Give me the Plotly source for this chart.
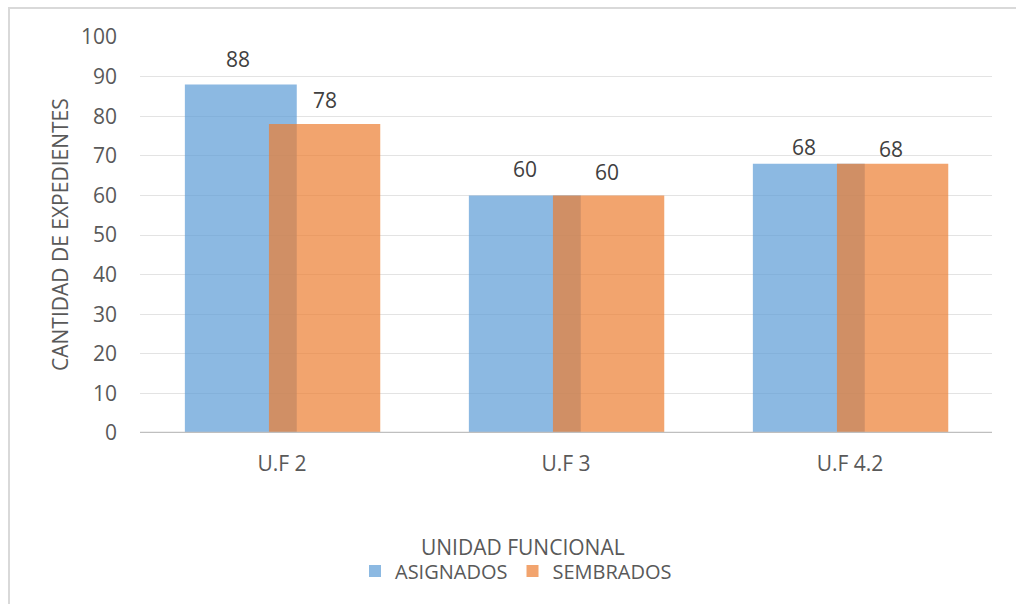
import plotly.graph_objects as go

categories = ["U.F 2", "U.F 3", "U.F 4.2"]
asignados = [88, 60, 68]
sembrados = [78, 60, 68]
series_names = ["ASIGNADOS", "SEMBRADOS"]
y_ticks = [0, 10, 20, 30, 40, 50, 60, 70, 80, 90, 100]

FONT = "Open Sans"
L, R, T, B = 140, 24, 37, 171
W, H = 1016, 604
pw = W - L - R
ph = H - T - B

def px_x(p):
    return (p - L) / pw

def px_y(p):
    return (H - B - p) / ph

BAR_W = [0.394, 0.392]
BAR_OFF = [-0.342, -0.046]
COLORS = ["rgba(91,155,213,0.7)", "rgba(237,125,49,0.7)"]
# label nudges (pixels): [series][category]
LBL_DX = [[-3, 0, -5], [0, -2, -2]]
LBL_DY = [[26, 26, 17], [24, 23, 15]]

fig = go.Figure()
series = [asignados, sembrados]
for s, vals in enumerate(series):
    fig.add_trace(go.Bar(
        x=categories, y=vals, name=series_names[s],
        marker=dict(color=COLORS[s], line=dict(width=0)),
        width=BAR_W[s], offset=BAR_OFF[s],
    ))

annotations = []
for s, vals in enumerate(series):
    for i, v in enumerate(vals):
        annotations.append(dict(
            x=i + BAR_OFF[s] + BAR_W[s] / 2, y=v, xref="x", yref="y",
            text=str(v), showarrow=False, xanchor="center", yanchor="middle",
            xshift=LBL_DX[s][i], yshift=LBL_DY[s][i],
            font=dict(family=FONT, size=21, color="#404040"),
        ))

annotations += [
    dict(text="UNIDAD FUNCIONAL", xref="paper", yref="paper",
         x=px_x(523), y=px_y(547), xanchor="center", yanchor="middle",
         showarrow=False, font=dict(family=FONT, size=21, color="#595959")),
    dict(text="CANTIDAD DE EXPEDIENTES", xref="paper", yref="paper",
         x=px_x(60), y=px_y(235), xanchor="center", yanchor="middle",
         textangle=-90, showarrow=False,
         font=dict(family=FONT, size=21, color="#595959")),
]

fig.update_layout(
    width=W, height=H,
    margin=dict(l=L, r=R, t=T, b=B),
    paper_bgcolor="white", plot_bgcolor="white",
    barmode="overlay",
    font=dict(family=FONT, size=21, color="#595959"),
    showlegend=True,
    legend=dict(orientation="h", x=px_x(516), xanchor="center",
                y=px_y(571), yanchor="middle",
                font=dict(family=FONT, size=20, color="#595959"),
                itemwidth=30, traceorder="normal",
                bgcolor="rgba(0,0,0,0)"),
    xaxis=dict(type="category", showgrid=False, ticks="", showline=False,
               zeroline=False, ticklabelstandoff=16,
               tickfont=dict(family=FONT, size=21, color="#595959"),
               range=[-0.5, 2.5]),
    yaxis=dict(range=[0, 100], tickvals=y_ticks, showgrid=True,
               gridcolor="#e3e3e3", gridwidth=1, zeroline=False, showline=False,
               ticks="", ticklabelstandoff=22,
               tickfont=dict(family=FONT, size=21, color="#595959")),
    annotations=annotations,
    shapes=[
        dict(type="line", xref="paper", yref="y", x0=0, x1=1, y0=0, y1=0,
             line=dict(color="#bfbfbf", width=2.5), layer="above"),
        dict(type="rect", xref="paper", yref="paper",
             x0=px_x(9), x1=px_x(1040), y0=px_y(8), y1=px_y(640),
             line=dict(color="#d9d9d9", width=2), layer="below"),
    ],
)

fig.write_html("out.html", config={"displayModeBar": False},
               post_script="document.body.style.margin='0px';")
